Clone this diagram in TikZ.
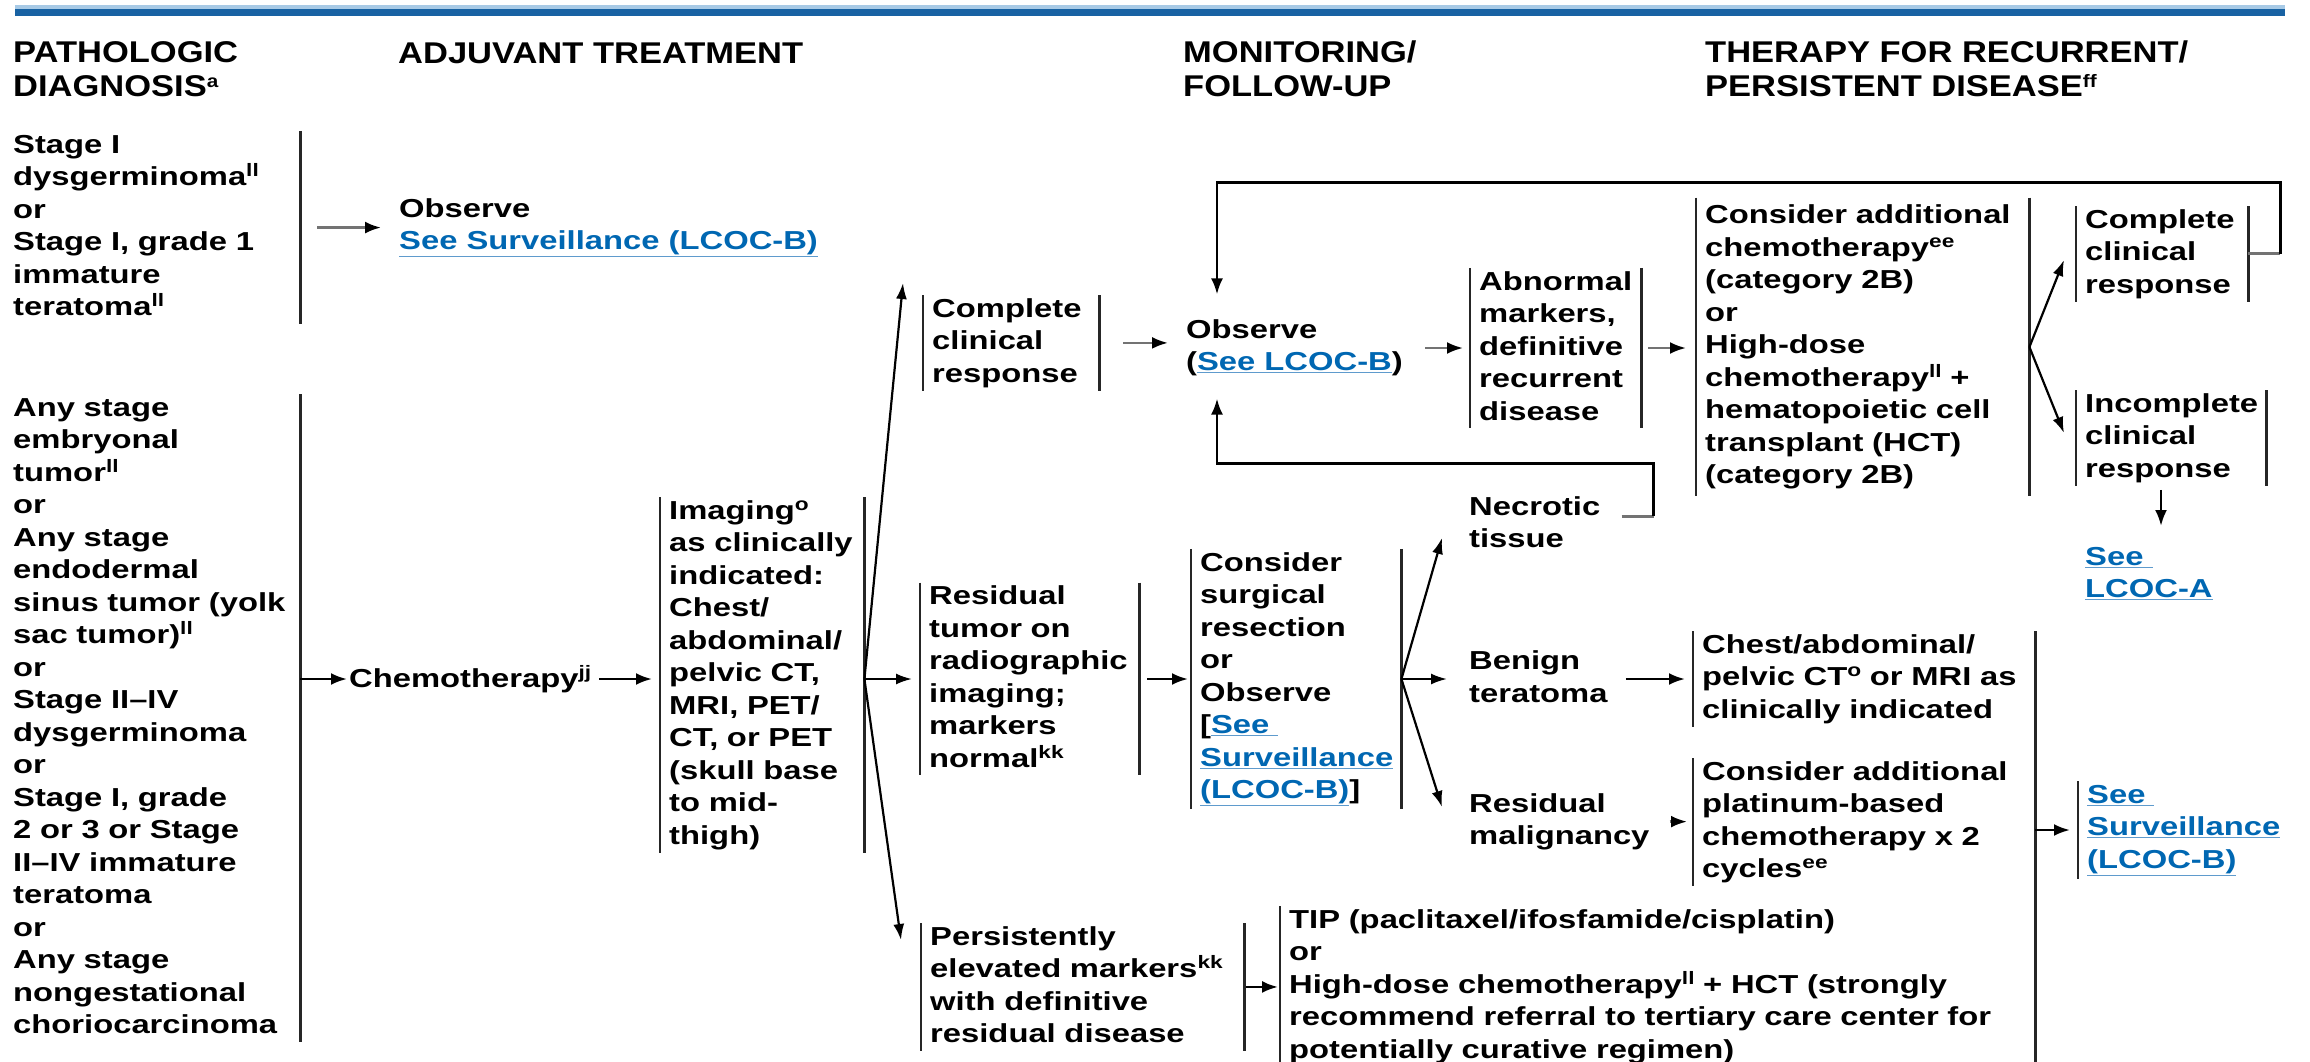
\documentclass[tikz,border=0pt]{standalone}
\usepackage{fontspec}
\newfontfamily\bodyfont[FakeStretch=1.26]{Liberation Sans Bold}
\newfontfamily\headfont[FakeStretch=1.15]{Liberation Sans Bold}
\usepackage{tikz}
\usetikzlibrary{arrows.meta,calc,positioning}

\definecolor{linkblue}{RGB}{0,103,178}
\definecolor{ulblue}{RGB}{95,155,205}
\definecolor{ruledark}{RGB}{24,98,163}
\definecolor{rulelight}{RGB}{168,202,230}

\newcommand{\fnote}[1]{\raisebox{9pt}{\fontsize{18}{18}\selectfont #1}}
\newcommand{\lnk}[1]{{\color{ulblue}\underline{\textcolor{linkblue}{#1}}}}
\newcommand{\topstrut}{\rule{0pt}{19pt}}
\newcommand{\botstrut}{\rule[-5pt]{0pt}{5pt}}

\tikzset{
  txt/.style={font={\bodyfont\fontsize{26}{32.5}\selectfont}, align=left,
    inner xsep=0pt, inner ysep=3pt, anchor=north west,
    execute at begin node={\hyphenpenalty=10000\exhyphenpenalty=10000\topstrut},
    execute at end node={\botstrut}},
  barline/.style={draw=black!85, line width=2.8pt},
  box/.style={txt, inner xsep=9pt, append after command={
    (\tikzlastnode.north west) edge[barline] (\tikzlastnode.south west)
    (\tikzlastnode.north east) edge[barline] (\tikzlastnode.south east)}},
  lbox/.style={txt, inner xsep=9pt, append after command={
    (\tikzlastnode.north west) edge[barline] (\tikzlastnode.south west)}},
  rbox/.style={txt, append after command={
    (\tikzlastnode.north east) edge[barline] (\tikzlastnode.south east)}},
  head/.style={font={\headfont\fontsize{30}{34}\selectfont}, align=left,
    inner sep=0pt, anchor=north west, execute at begin node={\rule{0pt}{22pt}}},
  arr/.style={draw=black, line width=2.6pt, -{Latex[length=16pt,width=12pt]}},
  garr/.style={arr, draw=black!55, -{Latex[length=16pt,width=12pt,color=black]}},
  farr/.style={draw=black, line width=2.2pt, -{Latex[length=16pt,width=11pt]}},
  stub/.style={draw=black!55, line width=3.2pt}
}

\begin{document}
\begin{tikzpicture}[x=1pt,y=-1pt]
  \useasboundingbox (0,0) rectangle (2310,1062);
  \fill[rulelight] (15,5) rectangle (2285,9);
  \fill[ruledark] (15,9) rectangle (2285,16);

  \node[head] (hd1) at (13,41) {PATHOLOGIC\\DIAGNOSIS\fnote{a}};
  \node[head] (hd2) at (398,41) {ADJUVANT TREATMENT};
  \node[head] (hd3) at (1183,41) {MONITORING/\\FOLLOW-UP};
  \node[head] (hd4) at (1705,41) {THERAPY FOR RECURRENT/\\PERSISTENT DISEASE\fnote{ff}};

  \node[rbox, text width=287] (diag1) at (13,131) {Stage I\\dysgerminoma\fnote{ll}\\or\\Stage I, grade 1\\immature\\teratoma\fnote{ll}};
  \node[rbox, text width=287] (diag2) at (13,394) {Any stage\\embryonal\\tumor\fnote{ll}\\or\\Any stage\\endodermal\\sinus tumor (yolk\\sac tumor)\fnote{ll}\\or\\Stage II–IV\\dysgerminoma\\or\\Stage I, grade\\2 or 3 or Stage\\II–IV immature\\teratoma\\or\\Any stage\\nongestational\\choriocarcinoma};
  \node[txt] (obs1) at (399,195) {Observe\\\lnk{See Surveillance (LCOC-B)}};
  \node[txt, anchor=west] (chemo) at (349,679) {Chemotherapy\fnote{jj}};
  \node[box, text width=186, anchor=west] (imaging) at (660,675) {Imaging\fnote{o}\\as clinically\\indicated:\\Chest/\\abdominal/\\pelvic CT,\\MRI, PET/\\CT, or PET\\(skull base\\to mid-\\thigh)};

  \node[box, text width=158] (ccr) at (923,295) {Complete\\clinical\\response};
  \node[box, text width=201, anchor=west] (resid) at (920,679) {Residual\\tumor on\\radiographic\\imaging;\\markers\\normal\fnote{kk}};
  \node[box, text width=305] (persist) at (921,923) {Persistently\\elevated markers\fnote{kk}\\with definitive\\residual disease};

  \node[txt, anchor=west] (obs2) at (1186,348) {Observe\\(\lnk{See LCOC-B})};
  \node[box, text width=153, anchor=west] (abn) at (1470,348) {Abnormal\\markers,\\definitive\\recurrent\\disease};
  \node[box, text width=315, inner ysep=7pt, anchor=west] (ther) at (1696,347) {Consider additional\\chemotherapy\fnote{ee}\\(category 2B)\\or\\High-dose\\chemotherapy\fnote{ll} +\\hematopoietic cell\\transplant (HCT)\\(category 2B)};
  \node[box, text width=154] (ccr2) at (2076,206) {Complete\\clinical\\response};
  \node[box, text width=172] (inc) at (2076,390) {Incomplete\\clinical\\response};
  \node[txt] (seea) at (2085,544) {\lnk{See\ }\\\lnk{LCOC-A}};

  \node[box, text width=192, anchor=west] (cons) at (1191,679) {Consider\\surgical\\resection\\or\\Observe\\{}[\lnk{See\ }\\\lnk{Surveillance}\\\lnk{(LCOC-B)}]};
  \node[txt] (nec) at (1469,493) {Necrotic\\tissue};
  \node[txt, anchor=west] (benign) at (1469,679) {Benign\\teratoma};
  \node[txt] (malig) at (1469,790) {Residual\\malignancy};
  \node[lbox, text width=324, anchor=west] (chest) at (1693,679) {Chest/abdominal/\\pelvic CT\fnote{o} or MRI as\\clinically indicated};
  \node[lbox, text width=324] (plat) at (1693,758) {Consider additional\\platinum-based\\chemotherapy x 2\\cycles\fnote{ee}};
  \node[lbox, text width=200, anchor=west] (seeb) at (2078,830) {\lnk{See\ }\\\lnk{Surveillance}\\\lnk{(LCOC-B)}};
  \node[lbox, text width=760] (tip) at (1280,906) {TIP (paclitaxel/ifosfamide/cisplatin)\\or\\High-dose chemotherapy\fnote{ll} + HCT (strongly\\recommend referral to tertiary care center for\\potentially curative regimen)};

  \draw[garr, shorten <=17pt, shorten >=18pt] (diag1.east |- obs1.west) -- (obs1.west);
  \draw[arr, shorten >=2pt] (diag2.east |- chemo.west) -- (chemo.west);
  \draw[arr, shorten <=8pt, shorten >=8pt] (chemo.east) -- (chemo.east -| imaging.west);
  \draw[farr] (chemo.east -| imaging.east) -- ($(ccr.north west)+(-20,-12)$);
  \draw[farr, shorten >=8pt] (chemo.east -| imaging.east) -- (resid.west);
  \draw[farr] (chemo.east -| imaging.east) -- ($(persist.north west)+(-20,17)$);
  \draw[garr, shorten <=24pt, shorten >=18pt] (ccr.east) -- (ccr.east -| obs2.west);
  \draw[garr, shorten <=22pt, shorten >=7pt] (obs2.east) -- (obs2.east -| abn.west);
  \draw[garr, shorten <=7pt, shorten >=10pt] (abn.east) -- (abn.east -| ther.west);
  \draw[farr] (ther.east) -- ($(ccr2.north west)+(-12,54)$);
  \draw[farr] (ther.east) -- ($(inc.north west)+(-12,43)$);
  \draw[stub] (ccr2.east) -- ++(32,0) coordinate (loopa);
  \draw[arr] (loopa) |- ($(obs2.north west)+(31,-134)$) -- ($(obs2.north west)+(31,-22)$);
  \draw[arr] ($(inc.south west)+(85,4)$) -- ($(seea.north west)+(76,-18)$);
  \draw[arr, shorten <=8pt, shorten >=3pt] (resid.east) -- (resid.east -| cons.west);
  \draw[farr] (cons.east) -- ($(nec.north west)+(-27,45)$);
  \draw[farr, shorten >=22pt] (cons.east) -- (benign.west);
  \draw[farr] (cons.east) -- ($(malig.north west)+(-27,17)$);
  \draw[stub] ($(nec.east)+(21,-8)$) -- ++(32,0) coordinate (loopb);
  \draw[arr] (loopb) |- ($(obs2.south west)+(31,84)$) -- ($(obs2.south west)+(31,19)$);
  \draw[arr, shorten <=18pt, shorten >=8pt] (benign.east) -- (benign.east -| chest.west);
  \draw[garr, shorten <=20pt, shorten >=6pt] (malig.east) -- (malig.east -| plat.west);
  \draw[barline] (chest.north east) -- ++(0,450);
  \draw[arr, shorten >=8pt] (chest.east |- seeb.west) -- (seeb.west);
  \draw[arr, shorten <=2pt, shorten >=2pt] (persist.east) -- (persist.east -| tip.west);
\end{tikzpicture}
\end{document}
